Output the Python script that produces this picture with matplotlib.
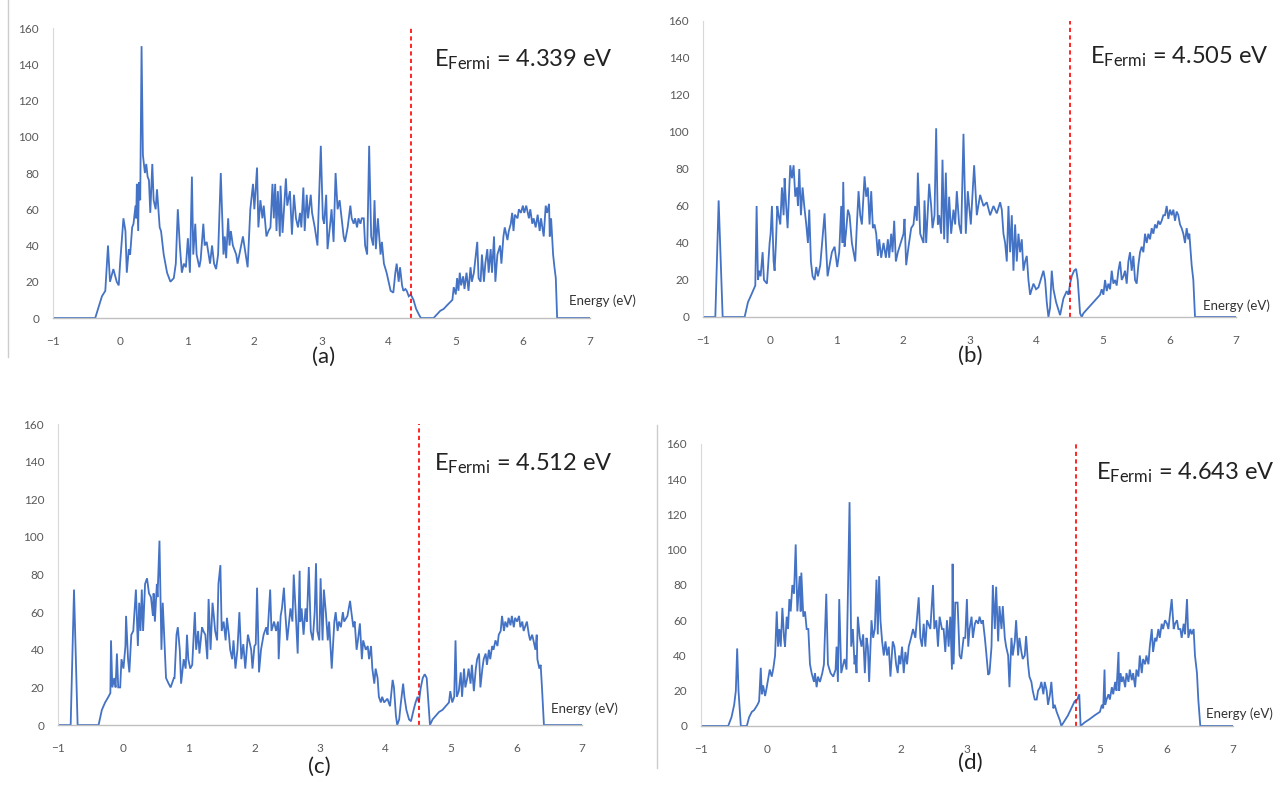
import matplotlib
matplotlib.use("Agg")
import matplotlib.pyplot as plt
from matplotlib.lines import Line2D

plt.rcParams['font.family'] = ['Lato', 'DejaVu Sans']
plt.rcParams['mathtext.fontset'] = 'custom'
plt.rcParams['mathtext.rm'] = 'Lato'
plt.rcParams['mathtext.it'] = 'Lato:italic'

# ---- data (energy in eV, DOS) ----
e_a = [-1.0, -0.37, -0.27, -0.22, -0.18, -0.15, -0.10, -0.05, -0.02, 0.0, 0.05, 0.08, 0.10, 0.13, 0.15, 0.18,
       0.20, 0.23, 0.24, 0.25, 0.27, 0.28, 0.30, 0.32, 0.34, 0.37, 0.39, 0.41, 0.43, 0.45, 0.48, 0.50, 0.53,
       0.55, 0.59, 0.61, 0.65, 0.70, 0.75, 0.80, 0.83, 0.86, 0.89, 0.92, 0.95, 0.98, 1.01, 1.04, 1.07, 1.09,
       1.12, 1.14, 1.18, 1.20, 1.24, 1.26, 1.29, 1.32, 1.34, 1.37, 1.40, 1.43, 1.46, 1.50, 1.54, 1.56, 1.58,
       1.61, 1.63, 1.65, 1.68, 1.73, 1.75, 1.83, 1.90, 1.94, 1.98, 2.00, 2.04, 2.06, 2.09, 2.12, 2.14, 2.18,
       2.21, 2.24, 2.27, 2.29, 2.31, 2.33, 2.35, 2.38, 2.39, 2.42, 2.47, 2.49, 2.53, 2.56, 2.59, 2.62, 2.65,
       2.68, 2.70, 2.73, 2.75, 2.78, 2.80, 2.84, 2.86, 2.90, 2.94, 2.99, 3.02, 3.04, 3.07, 3.09, 3.13, 3.15,
       3.18, 3.21, 3.24, 3.27, 3.30, 3.33, 3.35, 3.39, 3.43, 3.45, 3.48, 3.50, 3.53, 3.55, 3.58, 3.60, 3.63,
       3.65, 3.68, 3.71, 3.74, 3.77, 3.79, 3.81, 3.84, 3.88, 3.90, 3.93, 3.97, 4.00, 4.03, 4.07, 4.10, 4.12,
       4.15, 4.17, 4.20, 4.22, 4.25, 4.27, 4.30, 4.33, 4.37, 4.41, 4.45, 4.48, 4.67, 4.72, 4.77, 4.82, 4.87,
       4.95, 4.97, 5.00, 5.02, 5.04, 5.06, 5.08, 5.11, 5.13, 5.16, 5.19, 5.22, 5.24, 5.27, 5.32, 5.34, 5.37,
       5.39, 5.42, 5.44, 5.47, 5.49, 5.52, 5.54, 5.57, 5.59, 5.62, 5.66, 5.68, 5.71, 5.73, 5.77, 5.79, 5.82,
       5.84, 5.86, 5.88, 5.92, 5.94, 5.97, 6.00, 6.02, 6.05, 6.09, 6.11, 6.14, 6.16, 6.19, 6.22, 6.25, 6.27,
       6.31, 6.34, 6.36, 6.39, 6.40, 6.42, 6.45, 6.47, 6.49, 6.51, 7.0]
dos_a = [0, 0, 12, 15, 40, 20, 27, 20, 18, 30, 55, 48, 25, 38, 35, 50,
         52, 62, 55, 74, 48, 75, 65, 150, 90, 80, 85, 78, 76, 58, 85, 65, 60,
         71, 50, 48, 35, 25, 20, 22, 30, 60, 40, 25, 30, 28, 44, 25, 78, 35,
         52, 35, 28, 32, 52, 40, 42, 35, 30, 40, 30, 27, 35, 80, 35, 45, 33,
         55, 40, 48, 40, 35, 30, 45, 28, 60, 74, 60, 83, 50, 65, 55, 62, 45,
         48, 50, 74, 55, 74, 48, 70, 45, 73, 47, 77, 62, 70, 46, 68, 55, 50,
         58, 50, 72, 48, 68, 55, 68, 58, 50, 40, 95, 55, 52, 68, 38, 52, 60,
         42, 80, 60, 65, 55, 45, 42, 50, 62, 55, 52, 55, 50, 55, 52, 55, 55,
         40, 35, 95, 45, 40, 65, 38, 55, 35, 42, 30, 25, 20, 15, 14, 25, 30,
         20, 28, 18, 15, 16, 15, 12, 13, 10, 5, 2, 0, 0, 2, 4, 5, 7,
         10, 17, 13, 22, 15, 25, 18, 23, 16, 25, 15, 28, 20, 25, 42, 22, 20,
         35, 20, 30, 38, 25, 38, 25, 45, 20, 35, 40, 30, 45, 50, 43, 48, 52,
         58, 48, 57, 55, 60, 58, 62, 58, 62, 55, 60, 52, 55, 50, 57, 48, 55,
         45, 62, 58, 63, 45, 55, 35, 28, 22, 0, 0]

e_b = [-1.0, -0.815, -0.765, -0.705, -0.375, -0.325, -0.275, -0.215, -0.195, -0.175, -0.155, -0.135, -0.105,
       -0.085, -0.04, 0.0, 0.015, 0.035, 0.06, 0.075, 0.095, 0.115, 0.135, 0.16, 0.185, 0.21, 0.225, 0.24,
       0.27, 0.31, 0.335, 0.36, 0.385, 0.41, 0.425, 0.445, 0.47, 0.495, 0.52, 0.55, 0.575, 0.595, 0.62, 0.645,
       0.675, 0.70, 0.725, 0.76, 0.80, 0.825, 0.845, 0.87, 0.91, 0.935, 0.975, 1.015, 1.045, 1.075, 1.095,
       1.105, 1.125, 1.145, 1.175, 1.20, 1.235, 1.285, 1.31, 1.335, 1.36, 1.385, 1.425, 1.45, 1.475, 1.50,
       1.525, 1.55, 1.575, 1.60, 1.625, 1.645, 1.675, 1.71, 1.745, 1.775, 1.795, 1.825, 1.845, 1.87, 1.895,
       1.925, 1.95, 1.985, 2.01, 2.025, 2.05, 2.085, 2.125, 2.16, 2.185, 2.21, 2.225, 2.26, 2.31, 2.325, 2.35,
       2.395, 2.425, 2.445, 2.475, 2.50, 2.525, 2.545, 2.575, 2.595, 2.62, 2.645, 2.67, 2.695, 2.725, 2.76,
       2.785, 2.81, 2.845, 2.875, 2.91, 2.945, 2.975, 3.02, 3.07, 3.11, 3.16, 3.21, 3.26, 3.31, 3.36, 3.41,
       3.46, 3.485, 3.51, 3.535, 3.56, 3.585, 3.61, 3.635, 3.66, 3.685, 3.71, 3.735, 3.76, 3.785, 3.81, 3.835,
       3.86, 3.885, 3.91, 3.935, 3.96, 4.00, 4.035, 4.085, 4.11, 4.135, 4.16, 4.185, 4.21, 4.235, 4.26, 4.30,
       4.335, 4.36, 4.41, 4.435, 4.46, 4.485, 4.51, 4.535, 4.57, 4.60, 4.625, 4.66, 4.685, 4.71, 4.76, 4.81,
       4.86, 4.91, 4.96, 4.985, 5.01, 5.035, 5.06, 5.085, 5.11, 5.135, 5.16, 5.185, 5.21, 5.235, 5.26, 5.285,
       5.31, 5.335, 5.36, 5.385, 5.41, 5.435, 5.46, 5.485, 5.51, 5.535, 5.56, 5.585, 5.61, 5.635, 5.66, 5.685,
       5.71, 5.735, 5.76, 5.785, 5.81, 5.835, 5.86, 5.885, 5.91, 5.935, 5.96, 5.985, 6.01, 6.035, 6.06, 6.085,
       6.11, 6.135, 6.16, 6.185, 6.21, 6.235, 6.26, 6.285, 6.30, 6.32, 6.335, 6.36, 6.385, 7.0]
dos_b = [0, 0, 63, 0, 0, 8, 12, 17, 60, 20, 25, 22, 35,
         20, 18, 40, 45, 60, 30, 25, 40, 60, 55, 50, 70, 55, 75, 65,
         48, 82, 75, 82, 65, 70, 60, 80, 55, 70, 60, 50, 40, 58, 30, 22,
         20, 27, 22, 28, 45, 56, 40, 22, 30, 35, 38, 27, 35, 60, 40,
         73, 38, 45, 58, 55, 40, 30, 50, 68, 55, 50, 76, 65, 70, 50,
         68, 48, 50, 45, 33, 42, 32, 40, 32, 42, 32, 45, 35, 52, 30,
         35, 38, 42, 45, 53, 28, 38, 48, 50, 60, 52, 78, 45, 40, 63, 40,
         72, 60, 48, 55, 102, 50, 55, 45, 85, 42, 78, 40, 65, 45, 58,
         50, 68, 50, 45, 99, 45, 68, 50, 82, 55, 66, 60, 62, 55, 60, 56,
         62, 58, 45, 40, 30, 60, 35, 55, 25, 50, 30, 45, 35, 42, 25, 30,
         33, 20, 12, 15, 18, 15, 16, 22, 25, 20, 8, 0, 5, 25, 15, 8,
         4, 1, 10, 12, 14, 12, 18, 22, 25, 26, 20, 2, 0, 2, 4, 6,
         8, 10, 12, 15, 12, 20, 14, 18, 15, 25, 18, 20, 17, 25, 30, 20,
         22, 25, 18, 30, 35, 25, 33, 20, 18, 28, 35, 38, 35, 45, 40, 45,
         42, 48, 45, 50, 48, 52, 50, 52, 55, 55, 60, 53, 58, 55, 58, 52,
         57, 55, 50, 48, 45, 40, 48, 42, 45, 35, 28, 20, 0, 0]

e_c = [-1.0, -0.806, -0.755, -0.70, -0.38, -0.33, -0.28, -0.23, -0.20, -0.19, -0.17, -0.14, -0.12, -0.10,
       -0.08, -0.05, -0.03, 0.0, 0.03, 0.04, 0.07, 0.09, 0.12, 0.15, 0.19, 0.22, 0.24, 0.26, 0.28, 0.30,
       0.33, 0.36, 0.39, 0.42, 0.45, 0.46, 0.48, 0.51, 0.52, 0.55, 0.58, 0.60, 0.65, 0.69, 0.72, 0.77, 0.78,
       0.81, 0.83, 0.86, 0.88, 0.92, 0.95, 0.97, 0.99, 1.02, 1.05, 1.09, 1.11, 1.14, 1.16, 1.20, 1.22, 1.25,
       1.28, 1.30, 1.33, 1.36, 1.38, 1.40, 1.43, 1.45, 1.48, 1.50, 1.53, 1.56, 1.58, 1.61, 1.63, 1.66, 1.68,
       1.71, 1.74, 1.77, 1.80, 1.83, 1.86, 1.90, 1.92, 1.95, 1.97, 2.00, 2.02, 2.04, 2.07, 2.10, 2.14, 2.18,
       2.20, 2.24, 2.26, 2.30, 2.33, 2.36, 2.37, 2.40, 2.42, 2.45, 2.47, 2.50, 2.53, 2.55, 2.58, 2.60, 2.63,
       2.66, 2.69, 2.70, 2.72, 2.75, 2.78, 2.80, 2.83, 2.86, 2.89, 2.92, 2.94, 2.96, 2.99, 3.01, 3.04, 3.06,
       3.09, 3.12, 3.14, 3.18, 3.22, 3.24, 3.27, 3.29, 3.32, 3.35, 3.37, 3.42, 3.46, 3.48, 3.51, 3.53, 3.56,
       3.58, 3.61, 3.64, 3.66, 3.70, 3.73, 3.75, 3.78, 3.80, 3.83, 3.85, 3.88, 3.90, 3.93, 3.95, 3.98, 4.03,
       4.07, 4.11, 4.13, 4.16, 4.18, 4.21, 4.23, 4.27, 4.29, 4.32, 4.36, 4.39, 4.43, 4.46, 4.49, 4.51, 4.54,
       4.57, 4.60, 4.63, 4.65, 4.68, 4.72, 4.77, 4.82, 4.87, 4.92, 4.97, 4.99, 5.02, 5.05, 5.07, 5.09, 5.12,
       5.15, 5.17, 5.20, 5.22, 5.25, 5.27, 5.30, 5.32, 5.35, 5.38, 5.40, 5.43, 5.45, 5.48, 5.50, 5.53, 5.55,
       5.58, 5.60, 5.63, 5.65, 5.68, 5.71, 5.73, 5.76, 5.78, 5.81, 5.83, 5.86, 5.88, 5.91, 5.93, 5.96, 5.98,
       6.01, 6.04, 6.06, 6.09, 6.11, 6.14, 6.16, 6.19, 6.21, 6.24, 6.26, 6.29, 6.31, 6.32, 6.35, 6.37, 6.39,
       6.42, 7.0]
dos_c = [0, 0, 72, 0, 0, 8, 12, 15, 17, 45, 20, 25, 20, 38,
         20, 20, 35, 30, 42, 58, 35, 28, 48, 50, 72, 42, 65, 50, 72, 50,
         75, 78, 70, 68, 58, 70, 55, 75, 68, 98, 40, 65, 25, 22, 20, 25, 25,
         48, 52, 40, 22, 35, 30, 48, 35, 30, 32, 60, 40, 50, 38, 52, 50, 48,
         35, 67, 40, 65, 58, 50, 45, 75, 85, 50, 55, 45, 57, 48, 40, 35, 45,
         30, 40, 60, 35, 43, 30, 48, 45, 40, 30, 42, 43, 73, 28, 40, 48, 52,
         48, 72, 50, 55, 50, 55, 35, 58, 62, 73, 60, 45, 55, 62, 55, 80, 60,
         38, 82, 55, 62, 48, 62, 55, 84, 50, 45, 60, 86, 50, 45, 78, 45, 72,
         60, 45, 55, 30, 55, 60, 50, 55, 52, 60, 55, 58, 66, 60, 52, 55, 40,
         45, 54, 35, 45, 40, 42, 35, 42, 30, 22, 30, 25, 15, 12, 15, 12, 14,
         10, 24, 20, 5, 0, 3, 10, 22, 15, 8, 3, 2, 8, 12, 15, 12, 20,
         25, 27, 25, 15, 0, 3, 5, 7, 8, 10, 12, 18, 12, 15, 45, 15, 18,
         28, 15, 30, 20, 25, 30, 22, 32, 18, 30, 35, 38, 20, 30, 35, 38, 32,
         40, 35, 42, 40, 45, 42, 48, 50, 58, 50, 55, 52, 57, 53, 58, 52, 57,
         55, 58, 52, 55, 50, 53, 55, 48, 45, 48, 45, 40, 48, 35, 30, 32, 20,
         0, 0]

e_d = [-1.0, -0.59, -0.54, -0.50, -0.475, -0.455, -0.435, -0.40, -0.31, -0.275, -0.235, -0.20, -0.15,
       -0.125, -0.10, -0.085, -0.065, -0.035, -0.01, 0.035, 0.065, 0.09, 0.115, 0.14, 0.16, 0.18, 0.20,
       0.225, 0.25, 0.265, 0.29, 0.31, 0.33, 0.35, 0.375, 0.40, 0.425, 0.45, 0.485, 0.50, 0.51, 0.54, 0.565,
       0.59, 0.615, 0.64, 0.665, 0.70, 0.715, 0.74, 0.76, 0.79, 0.825, 0.85, 0.885, 0.91, 0.95, 0.99, 1.025,
       1.04, 1.06, 1.08, 1.11, 1.14, 1.16, 1.19, 1.235, 1.26, 1.285, 1.31, 1.325, 1.34, 1.36, 1.39, 1.415,
       1.44, 1.465, 1.49, 1.51, 1.53, 1.55, 1.565, 1.59, 1.615, 1.64, 1.66, 1.68, 1.70, 1.725, 1.75, 1.775,
       1.80, 1.825, 1.85, 1.885, 1.91, 1.935, 1.96, 1.98, 2.00, 2.025, 2.05, 2.075, 2.10, 2.125, 2.16, 2.19,
       2.225, 2.275, 2.30, 2.325, 2.35, 2.375, 2.40, 2.45, 2.49, 2.51, 2.54, 2.565, 2.59, 2.625, 2.65, 2.675,
       2.70, 2.725, 2.75, 2.775, 2.785, 2.80, 2.825, 2.86, 2.89, 2.915, 2.95, 2.975, 3.00, 3.02, 3.04, 3.07,
       3.09, 3.12, 3.14, 3.17, 3.19, 3.22, 3.24, 3.27, 3.29, 3.32, 3.34, 3.37, 3.39, 3.42, 3.44, 3.47, 3.49,
       3.52, 3.54, 3.57, 3.59, 3.62, 3.64, 3.67, 3.69, 3.72, 3.74, 3.77, 3.79, 3.82, 3.84, 3.87, 3.89, 3.92,
       3.94, 3.97, 3.99, 4.02, 4.05, 4.07, 4.10, 4.12, 4.15, 4.17, 4.20, 4.22, 4.25, 4.27, 4.30, 4.32, 4.35,
       4.37, 4.40, 4.42, 4.47, 4.52, 4.57, 4.62, 4.66, 4.69, 4.71, 4.77, 4.85, 4.92, 5.00, 5.03, 5.05, 5.07,
       5.08, 5.10, 5.13, 5.15, 5.18, 5.20, 5.23, 5.25, 5.28, 5.29, 5.31, 5.33, 5.35, 5.38, 5.40, 5.43, 5.45,
       5.48, 5.50, 5.53, 5.55, 5.58, 5.60, 5.63, 5.65, 5.68, 5.70, 5.73, 5.75, 5.78, 5.80, 5.83, 5.85, 5.88,
       5.90, 5.93, 5.95, 5.98, 6.01, 6.03, 6.06, 6.08, 6.11, 6.13, 6.16, 6.18, 6.21, 6.23, 6.26, 6.28, 6.31,
       6.33, 6.36, 6.38, 6.41, 6.43, 6.46, 6.48, 6.51, 7.0]
dos_d = [0, 0, 5, 12, 20, 44, 20, 0, 0, 5, 8, 9, 12,
         14, 33, 18, 23, 17, 22, 32, 28, 33, 40, 65, 45, 55, 45,
         67, 50, 45, 62, 55, 72, 65, 80, 75, 103, 65, 85, 65, 87, 62, 65,
         55, 55, 35, 30, 25, 30, 22, 28, 25, 30, 35, 75, 35, 30, 28, 32,
         45, 25, 72, 30, 35, 38, 32, 127, 45, 55, 35, 40, 30, 62, 50, 45,
         52, 30, 50, 45, 25, 45, 60, 50, 55, 83, 52, 85, 60, 48, 40, 48,
         40, 45, 28, 48, 45, 35, 30, 40, 35, 45, 30, 42, 35, 45, 50, 55,
         50, 73, 50, 45, 58, 45, 60, 55, 80, 55, 60, 45, 62, 55, 55, 42,
         60, 45, 62, 32, 92, 35, 70, 70, 40, 38, 50, 50, 72, 45, 55, 62,
         50, 58, 60, 58, 62, 58, 60, 50, 42, 29, 30, 45, 80, 55, 79, 48, 68,
         55, 68, 50, 45, 40, 22, 50, 40, 48, 60, 40, 50, 42, 38, 40, 51, 35,
         28, 25, 20, 15, 15, 20, 22, 25, 18, 25, 20, 12, 18, 25, 10, 12, 8,
         6, 3, 0, 3, 6, 10, 14, 15, 18, 0, 2, 4, 6, 8, 12, 10, 32,
         12, 15, 18, 15, 22, 18, 25, 20, 42, 20, 30, 25, 28, 22, 30, 25, 32,
         26, 30, 22, 32, 28, 40, 30, 38, 35, 40, 35, 45, 55, 42, 50, 48, 55,
         50, 58, 55, 60, 58, 55, 65, 72, 55, 58, 60, 55, 55, 50, 58, 52, 72,
         50, 55, 52, 55, 40, 30, 15, 0, 0]

fermi = [4.339, 4.505, 4.512, 4.643]
panel_tags = ['(a)', '(b)', '(c)', '(d)']
x_ticks = [-1, 0, 1, 2, 3, 4, 5, 6, 7]
y_ticks = [0, 20, 40, 60, 80, 100, 120, 140, 160]

energies = [e_a, e_b, e_c, e_d]
dos = [dos_a, dos_b, dos_c, dos_d]

# axes boxes in figure fractions [left, bottom, width, height]
boxes = [[0.0411, 0.5949, 0.4170, 0.3694],
         [0.5458, 0.5962, 0.4138, 0.3771],
         [0.0450, 0.0764, 0.4068, 0.3834],
         [0.5442, 0.0752, 0.4130, 0.3592]]
fermi_text_pos = [(4.67, 138.6), (4.81, 137.3), (4.74, 135.5), (4.94, 140.0)]
energy_label_pos = [(6.68, 7.2), (6.51, 3.8), (6.53, 6.4), (6.60, 4.5)]
tag_pos = [(0.251, 0.545), (0.753, 0.547), (0.248, 0.023), (0.753, 0.028)]

fig = plt.figure(figsize=(12.88, 7.85), dpi=100)

for i in range(4):
    ax = fig.add_axes(boxes[i])
    ax.plot(energies[i], dos[i], color='#4472C4', lw=1.3, solid_joinstyle='miter')
    ax.vlines(fermi[i], 0, 160, colors='#FF0000', linestyles=(0, (2.5, 2)), lw=1.2)
    ax.set_xlim(-1, 7)
    ax.set_ylim(0, 160)
    ax.set_xticks(x_ticks)
    ax.set_yticks(y_ticks)
    ax.tick_params(length=0, labelsize=8.5, labelcolor='#595959')
    ax.tick_params(axis='x', pad=13)
    ax.tick_params(axis='y', pad=10)
    for s in ['top', 'right']:
        ax.spines[s].set_visible(False)
    ax.spines['left'].set_color('#d9d9d9')
    ax.spines['bottom'].set_color('#bfbfbf')
    ax.spines['left'].set_linewidth(0.8)
    ax.spines['bottom'].set_linewidth(1.0)
    ax.patch.set_alpha(0)

    tx, ty = fermi_text_pos[i]
    ax.text(tx, ty, r'E$_{\mathrm{Fermi}}$ = %.3f eV' % fermi[i], fontsize=17,
            color='#222222', va='baseline', ha='left', clip_on=False)
    lx, ly = energy_label_pos[i]
    ax.text(lx, ly, 'Energy (eV)', fontsize=9.5, color='#333333',
            va='baseline', ha='left', clip_on=False)

    fx, fy = tag_pos[i]
    fig.text(fx, fy, panel_tags[i], fontsize=16, color='#222222', ha='center', va='center')

# thin frame edges left over from the original screenshots
fig.add_artist(Line2D([0.0065, 0.0065], [0.545, 1.0], color='#cccccc', lw=1.0))
fig.add_artist(Line2D([0.510, 0.510], [0.022, 0.459], color='#cccccc', lw=1.0))

fig.savefig('out.png', dpi=100)
